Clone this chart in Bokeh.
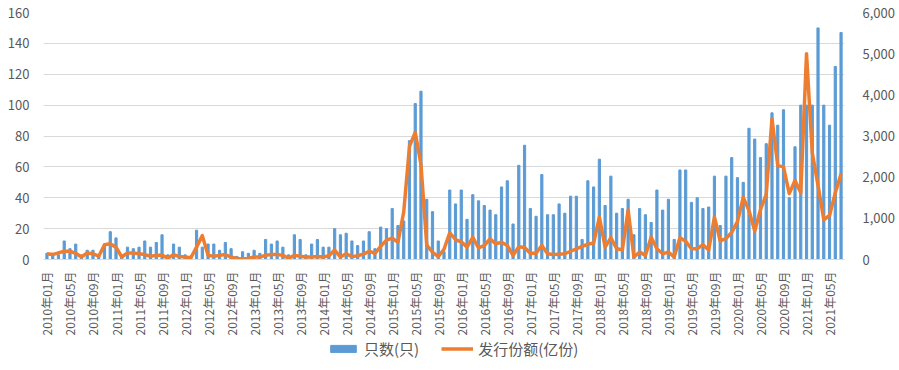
import math
from bokeh.plotting import figure
from bokeh.layouts import column
from bokeh.models import (Range1d, LinearAxis, FixedTicker, NumeralTickFormatter,
                          Legend, LegendItem, ColumnDataSource)
from bokeh.embed import file_html
from bokeh.resources import INLINE

# ---------------- data ----------------
start_year = 2010
n_months = 139  # 2010-01 .. 2021-07
month_index = list(range(n_months))
month_labels = [f"{start_year + i // 12}年{i % 12 + 1:02d}月" for i in month_index]

# 只数(只) - monthly count (left axis)
counts = [
    4, 4, 3, 12, 7, 10, 3, 6, 6, 3, 10, 18,          # 2010
    14, 3, 8, 7, 8, 12, 8, 11, 16, 3, 10, 8,         # 2011
    3, 2, 19, 8, 10, 10, 6, 11, 7, 2, 5, 4,          # 2012
    6, 4, 13, 10, 12, 8, 3, 16, 13, 3, 10, 13,       # 2013
    8, 8, 20, 16, 17, 12, 9, 12, 18, 7, 21, 20,      # 2014
    33, 22, 25, 77, 101, 109, 39, 31, 12, 5, 45, 36, # 2015
    45, 26, 42, 38, 35, 32, 29, 47, 51, 23, 61, 74,  # 2016
    33, 28, 55, 29, 29, 36, 30, 41, 41, 13, 51, 47,  # 2017
    65, 35, 54, 30, 33, 39, 16, 33, 29, 24, 45, 32,  # 2018
    39, 13, 58, 58, 37, 40, 33, 34, 54, 22, 54, 66,  # 2019
    53, 50, 85, 78, 66, 75, 95, 87, 97, 40, 73, 100, # 2020
    100, 100, 150, 100, 87, 125, 147,                # 2021
]

# 发行份额(亿份) - monthly issued shares (right axis)
shares = [
    140, 120, 160, 200, 200, 150, 60, 160, 140, 80, 360, 380,
    300, 60, 160, 160, 140, 120, 80, 100, 110, 30, 120, 70,
    60, 40, 300, 580, 100, 80, 100, 120, 60, 25, 15, 25,
    60, 60, 100, 120, 120, 100, 30, 100, 80, 60, 60, 70,
    60, 90, 230, 60, 140, 70, 90, 130, 200, 150, 320, 470,
    520, 420, 1150, 2750, 3090, 2300, 350, 180, 70, 250, 650, 480,
    430, 300, 540, 280, 340, 500, 380, 420, 340, 100, 310, 290,
    150, 150, 340, 140, 120, 130, 140, 200, 260, 320, 370, 400,
    1030, 300, 530, 260, 235, 1200, 60, 180, 100, 540, 260, 140,
    180, 60, 530, 445, 260, 260, 360, 230, 1030, 450, 510, 660,
    920, 1510, 1190, 690, 1210, 1580, 3420, 2280, 2250, 1600, 1920, 1620,
    5000, 2590, 1800, 965, 1070, 1620, 2080,
]

left_ticks = [0, 20, 40, 60, 80, 100, 120, 140, 160]
right_ticks = [0, 1000, 2000, 3000, 4000, 5000, 6000]
x_tick_positions = month_index[::4]

series_names = ["只数(只)", "发行份额(亿份)"]

# ---------------- styling ----------------
BLUE = "#5B9BD5"
ORANGE = "#ED7D31"
GREY_TXT = "#595959"
GRID = "#D9D9D9"
FONT = "Noto Sans CJK SC"

src = ColumnDataSource(dict(x=month_index, counts=counts, shares=shares, label=month_labels))

p = figure(width=897, height=339, output_backend="svg", toolbar_location=None,
           x_range=Range1d(-0.6, n_months - 0.4), y_range=Range1d(0, 160),
           min_border_left=43, min_border_right=52, min_border_top=12, min_border_bottom=80)
p.outline_line_color = None
p.extra_y_ranges = {"right": Range1d(0, 6000)}

bars = p.vbar(x="x", top="counts", width=0.38, source=src, color=BLUE)
line = p.line(x="x", y="shares", source=src, y_range_name="right",
              line_color=ORANGE, line_width=3.5, line_join="round")

# left axis
ya = p.yaxis[0]
ya.ticker = FixedTicker(ticks=left_ticks)
ya.axis_line_color = None
ya.major_tick_line_color = None
ya.minor_tick_line_color = None
ya.major_label_text_color = GREY_TXT
ya.major_label_text_font = FONT
ya.major_label_text_font_size = "13px"
ya.major_label_standoff = 8

# right axis
ra = LinearAxis(y_range_name="right", ticker=FixedTicker(ticks=right_ticks),
                formatter=NumeralTickFormatter(format="0,0"))
ra.axis_line_color = None
ra.major_tick_line_color = None
ra.minor_tick_line_color = None
ra.major_label_text_color = GREY_TXT
ra.major_label_text_font = FONT
ra.major_label_text_font_size = "13px"
ra.major_label_standoff = 12
p.add_layout(ra, "right")

# x axis
xa = p.xaxis[0]
xa.ticker = FixedTicker(ticks=x_tick_positions)
xa.major_label_overrides = {i: month_labels[i] for i in x_tick_positions}
xa.major_label_orientation = math.pi / 2
xa.axis_line_color = GRID
xa.major_tick_line_color = None
xa.minor_tick_line_color = None
xa.major_label_text_color = GREY_TXT
xa.major_label_text_font = FONT
xa.major_label_text_font_size = "12px"
xa.major_label_standoff = 6

p.xgrid.grid_line_color = None
p.ygrid.grid_line_color = GRID
p.ygrid.ticker = FixedTicker(ticks=left_ticks)

# ---------------- legend strip ----------------
lg = figure(width=897, height=29, output_backend="svg", toolbar_location=None,
            x_range=Range1d(0, 1), y_range=Range1d(0, 1),
            x_axis_type=None, y_axis_type=None,
            min_border_left=0, min_border_right=0, min_border_top=0, min_border_bottom=0)
lg.outline_line_color = None
lg.xgrid.grid_line_color = None
lg.ygrid.grid_line_color = None
# off-screen proxy glyphs so that the legend can draw its swatches
proxy = ColumnDataSource(dict(x=[-10, -9], counts=[-10, -9], shares=[-10, -9]))
lb = lg.vbar(x="x", top="counts", width=0.38, source=proxy, color=BLUE)
ll = lg.line(x="x", y="shares", source=proxy, line_color=ORANGE, line_width=3.5)

legend = Legend(items=[LegendItem(label=series_names[0], renderers=[lb]),
                       LegendItem(label=series_names[1], renderers=[ll])],
                location=(284, 9), orientation="horizontal",
                background_fill_alpha=0, border_line_alpha=0,
                glyph_width=32, glyph_height=9, spacing=22, padding=0, margin=0,
                label_text_font=FONT, label_text_font_size="15px",
                label_text_color=GREY_TXT, label_standoff=5)
lg.add_layout(legend)

layout = column(p, lg, spacing=0)
open("out.html", "w").write(file_html(layout, INLINE))
